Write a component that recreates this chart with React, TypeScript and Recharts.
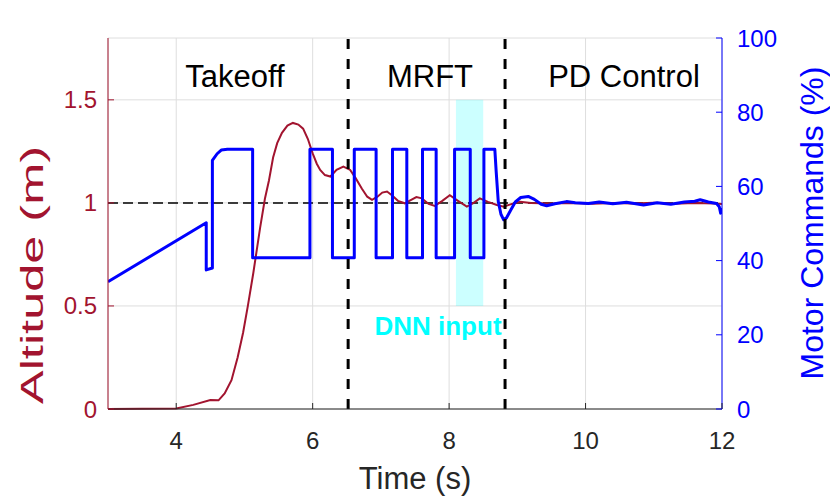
import React from 'react';
import {
  LineChart,
  Line,
  XAxis,
  YAxis,
  CartesianGrid,
  ReferenceLine,
  ReferenceArea,
} from 'recharts';

// Altitude (m), red curve
const altitudeTime = [
  3.0, 4.0, 4.25, 4.5, 4.62, 4.71, 4.81, 4.9, 4.98, 5.05, 5.13, 5.23, 5.3, 5.36, 5.42, 5.48, 5.55,
  5.63, 5.71, 5.79, 5.86, 5.93, 6.0, 6.06, 6.11, 6.18, 6.26, 6.35, 6.45, 6.55, 6.63, 6.72, 6.8,
  6.87, 6.95, 7.02, 7.09, 7.17, 7.25, 7.35, 7.43, 7.52, 7.6, 7.7, 7.79, 7.9, 8.01, 8.13, 8.26,
  8.36, 8.45, 8.57, 8.7, 8.8, 8.92, 9.04, 9.2, 9.5, 9.8, 10.1, 10.4, 10.7, 11.0, 11.3, 11.6,
  11.9, 12.0,
];
const altitudeValue = [
  0, 0.003, 0.02, 0.044, 0.042, 0.076, 0.14, 0.25, 0.37, 0.5, 0.66, 0.88, 1.02, 1.11, 1.22, 1.29,
  1.34, 1.375, 1.388, 1.38, 1.36, 1.31, 1.24, 1.19, 1.16, 1.135, 1.128, 1.16, 1.176, 1.16, 1.12,
  1.07, 1.03, 1.015, 1.03, 1.05, 1.055, 1.035, 1.01, 0.998, 1.012, 1.028, 1.022, 0.995, 0.985,
  1.01, 1.037, 1.01, 0.982, 1.0, 1.022, 1.005, 0.99, 0.982, 0.995, 1.005, 1.0, 0.997, 1.0, 0.996,
  1.0, 0.997, 1.001, 0.996, 1.0, 0.997, 0.995,
];

// Motor commands (%), blue curve: ramp, takeoff pulse, MRFT relay, then PD control
const motorTime = [
  3.0, 4.44, 4.44, 4.53, 4.53, 4.6, 4.66, 4.75, 5.12, 5.12, 5.96, 5.96, 6.29, 6.29, 6.61, 6.61,
  6.93, 6.93, 7.17, 7.17, 7.38, 7.38, 7.61, 7.61, 7.81, 7.81, 8.08, 8.08, 8.31, 8.31, 8.51, 8.51,
  8.67, 8.69, 8.72, 8.76, 8.8, 8.84, 8.9, 8.97, 9.05, 9.16, 9.25, 9.35, 9.43, 9.55, 9.72, 9.85,
  10.04, 10.2, 10.4, 10.6, 10.85, 11.05, 11.25, 11.45, 11.6, 11.68, 11.8, 11.92, 11.96, 11.98,
  12.0,
];
const motorValue = [
  34.3, 50.2, 37.5, 38.0, 67.0, 68.8, 69.8, 70, 70, 40.8, 40.8, 70, 70, 40.8, 40.8, 70, 70, 40.8,
  40.8, 70, 70, 40.8, 40.8, 70, 70, 40.8, 40.8, 70, 70, 40.8, 40.8, 70, 70, 64, 56, 52.5, 51,
  51.5, 53.5, 55.8, 57, 57.3, 56.5, 55.2, 54.8, 55.3, 55.9, 55.6, 55.4, 55.8, 55.3, 55.7, 55.0,
  55.6, 55.2, 55.8, 56.0, 56.4, 55.8, 55.4, 54.5, 52.8, 54.2,
];

const timeTicks = [4, 6, 8, 10, 12];
const altitudeTicks = [0, 0.5, 1, 1.5];
const motorTicks = [0, 20, 40, 60, 80, 100];
const altitudeSetpoint = 1;
const phaseSwitches = [6.52, 8.82];
const dnnWindow = [8.1, 8.5];

const altitudeData = altitudeTime.map((t, i) => ({ t, v: altitudeValue[i] }));
const motorData = motorTime.map((t, i) => ({ t, v: motorValue[i] }));

const FONT = '"Liberation Sans", Arial, Helvetica, sans-serif';
const AXIS_GRAY = '#262626';
const ALT_RED = '#A2142F';
const MOTOR_BLUE = '#0000FF';

function TimeTick({ x, y, payload }: any) {
  return (
    <g>
      <line x1={x} y1={y} x2={x} y2={y - 6} stroke={AXIS_GRAY} />
      <text x={x} y={y + 40} textAnchor="middle" fontSize={24} fill={AXIS_GRAY} fontFamily={FONT}>
        {payload.value}
      </text>
    </g>
  );
}

function TopTick({ x, y }: any) {
  return <line x1={x} y1={y} x2={x} y2={y + 6} stroke={AXIS_GRAY} />;
}

function AltitudeTick({ x, y, payload }: any) {
  return (
    <g>
      <line x1={x} y1={y} x2={x + 6} y2={y} stroke={ALT_RED} />
      <text x={x - 11} y={y + 8.5} textAnchor="end" fontSize={24} fill={ALT_RED} fontFamily={FONT}>
        {payload.value}
      </text>
    </g>
  );
}

function MotorTick({ x, y, payload }: any) {
  return (
    <g>
      <line x1={x} y1={y} x2={x - 6} y2={y} stroke={MOTOR_BLUE} />
      <text x={x + 15} y={y + 8.5} textAnchor="start" fontSize={24} fill={MOTOR_BLUE} fontFamily={FONT}>
        {payload.value}
      </text>
    </g>
  );
}

export default function App() {
  return (
    <div style={{ position: 'absolute', left: 0, top: 0, width: 830, height: 499, background: '#fff' }}>
      <LineChart width={830} height={499} margin={{ top: 38, right: 0, bottom: 0, left: 0 }}>
        <CartesianGrid yAxisId="alt" stroke="#dedede" strokeWidth={1} />
        <XAxis
          dataKey="t"
          type="number"
          domain={[3, 12]}
          ticks={timeTicks}
          interval={0}
          height={90}
          tickSize={0}
          tickMargin={0}
          tickLine={false}
          tick={<TimeTick />}
          axisLine={{ stroke: AXIS_GRAY }}
          allowDataOverflow
        />
        <XAxis
          xAxisId="top"
          orientation="top"
          dataKey="t"
          type="number"
          domain={[3, 12]}
          ticks={timeTicks}
          interval={0}
          height={0}
          tickSize={0}
          tickMargin={0}
          tickLine={false}
          tick={<TopTick />}
          axisLine={{ stroke: AXIS_GRAY }}
        />
        <YAxis
          yAxisId="alt"
          type="number"
          domain={[0, 1.8]}
          ticks={altitudeTicks}
          interval={0}
          width={108}
          tickSize={0}
          tickMargin={0}
          tickLine={false}
          tick={<AltitudeTick />}
          axisLine={{ stroke: ALT_RED }}
        />
        <YAxis
          yAxisId="motor"
          orientation="right"
          type="number"
          domain={[0, 100]}
          ticks={motorTicks}
          interval={0}
          width={108}
          tickSize={0}
          tickMargin={0}
          tickLine={false}
          tick={<MotorTick />}
          axisLine={{ stroke: MOTOR_BLUE }}
        />
        <ReferenceArea
          yAxisId="alt"
          x1={dnnWindow[0]}
          x2={dnnWindow[1]}
          y1={0.5}
          y2={1.5}
          fill="#00FFFF"
          fillOpacity={0.2}
          stroke="none"
        />
        <ReferenceLine
          yAxisId="alt"
          y={altitudeSetpoint}
          stroke="#000"
          strokeWidth={1.5}
          strokeDasharray="10 5"
        />
        <Line
          yAxisId="alt"
          data={altitudeData}
          dataKey="v"
          type="linear"
          stroke={ALT_RED}
          strokeWidth={2}
          dot={false}
          activeDot={false}
          isAnimationActive={false}
        />
        <Line
          yAxisId="motor"
          data={motorData}
          dataKey="v"
          type="linear"
          stroke={MOTOR_BLUE}
          strokeWidth={3}
          strokeLinejoin="round"
          dot={false}
          activeDot={false}
          isAnimationActive={false}
        />
        {phaseSwitches.map((t) => (
          <ReferenceLine
            key={t}
            yAxisId="alt"
            x={t}
            stroke="#000"
            strokeWidth={3}
            strokeDasharray="10 10"
          />
        ))}
      </LineChart>
      <svg
        width={830}
        height={499}
        style={{ position: 'absolute', left: 0, top: 0, pointerEvents: 'none' }}
        fontFamily={FONT}
      >
        <text x={235} y={87} textAnchor="middle" fontSize={31} fill="#000">Takeoff</text>
        <text x={430} y={87} textAnchor="middle" fontSize={31} fill="#000">MRFT</text>
        <text x={624} y={87} textAnchor="middle" fontSize={31} fill="#000">PD Control</text>
        <text x={438} y={335} textAnchor="middle" fontSize={26} fontWeight="bold" fill="#00FFFF">
          DNN input
        </text>
        <text x={415} y={489} textAnchor="middle" fontSize={31} fill={AXIS_GRAY}>Time (s)</text>
        <text
          x={43}
          y={275}
          transform="rotate(-90 43 275)"
          textAnchor="middle"
          fontSize={31}
          fill={ALT_RED}
          textLength={258}
          lengthAdjust="spacingAndGlyphs"
        >
          Altitude (m)
        </text>
        <text x={823} y={223} transform="rotate(-90 823 223)" textAnchor="middle" fontSize={32} fill={MOTOR_BLUE}>
          Motor Commands (%)
        </text>
      </svg>
    </div>
  );
}
